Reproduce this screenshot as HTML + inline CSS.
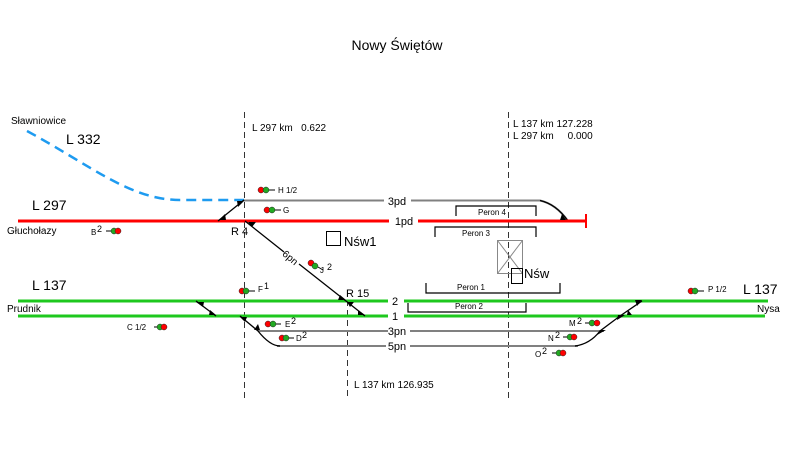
<!DOCTYPE html>
<html><head><meta charset="utf-8"><style>
html,body{margin:0;padding:0;background:#fff;}
svg{display:block;font-family:"Liberation Sans",sans-serif;}
</style></head><body>
<svg width="787" height="451" viewBox="0 0 787 451" xmlns="http://www.w3.org/2000/svg">
<rect width="787" height="451" fill="#fff"/>
<text x="397" y="50" font-size="14" text-anchor="middle">Nowy Świętów</text>

<!-- dashed km lines -->
<g stroke="#333" stroke-width="1" stroke-dasharray="6,4">
<line x1="244.5" y1="112" x2="244.5" y2="398"/>
<line x1="508.5" y1="112" x2="508.5" y2="398"/>
<line x1="347.5" y1="290" x2="347.5" y2="398"/>
</g>
<g font-size="10" fill="#000">
<text x="252" y="131">L 297 km&#160;&#160;&#160;0.622</text>
<text x="513" y="127">L 137 km 127.228</text>
<text x="513" y="139">L 297 km&#160;&#160;&#160;&#160;&#160;0.000</text>
<text x="354" y="388">L 137 km 126.935</text>
</g>

<!-- L332 blue dashed -->
<path d="M27,131 C90,165 130,200 180,200 L244,200" fill="none" stroke="#1e9bf0" stroke-width="2.5" stroke-dasharray="10,6"/>
<text x="11" y="124" font-size="10">Sławniowice</text>
<text x="66" y="144" font-size="14">L 332</text>

<!-- 3pd -->
<path d="M244,200.5 H384 M411,200.5 H540 Q556,204 568,221" fill="none" stroke="#808080" stroke-width="2"/>
<path d="M540,200.5 Q556,204 568,221" fill="none" stroke="#000" stroke-width="1.2"/>
<text x="397" y="205" font-size="11" text-anchor="middle">3pd</text>
<!-- 1pd red -->
<path d="M18,221 H389 M418,221 H586" stroke="#f00" stroke-width="3"/>
<line x1="586" y1="214" x2="586" y2="228" stroke="#f00" stroke-width="2"/>
<text x="404" y="225" font-size="11" text-anchor="middle">1pd</text>
<text x="32" y="210" font-size="14">L 297</text>
<text x="7" y="234" font-size="10">Głuchołazy</text>

<!-- green lines -->
<path d="M18,301 H388 M404,301 H768" stroke="#1ec81e" stroke-width="3"/>
<path d="M18,316 H388 M404,316 H765" stroke="#1ec81e" stroke-width="3"/>
<text x="395" y="305" font-size="11" text-anchor="middle">2</text>
<text x="395" y="320" font-size="11" text-anchor="middle">1</text>
<text x="32" y="290" font-size="14">L 137</text>
<text x="7" y="312" font-size="10">Prudnik</text>
<text x="743" y="294" font-size="14">L 137</text>
<text x="757" y="312" font-size="10">Nysa</text>

<!-- 3pn,5pn -->
<path d="M258,331 H388 M410,331 H604" stroke="#808080" stroke-width="2"/>
<path d="M277,346 H386 M410,346 H578" stroke="#808080" stroke-width="2"/>
<text x="397" y="335" font-size="11" text-anchor="middle">3pn</text>
<text x="397" y="350" font-size="11" text-anchor="middle">5pn</text>

<!-- connectors -->
<g fill="none" stroke="#000" stroke-width="1.3">
<line x1="244" y1="200" x2="218" y2="221"/>
<path d="M245,221 L284,252 M299,264 L365,316"/>
<line x1="196" y1="301" x2="216" y2="316"/>
<path d="M240,316 L258,331 Q270,346 280,346"/>
<path d="M642,301 L620,316 L600,331 Q590,344 575,346"/>
</g>
<text x="290" y="261" font-size="10" transform="rotate(40 290 258)" text-anchor="middle">6pn</text>
<!-- triangles -->
<g fill="#000">
<polygon points="237,201 244,201 238,207"/>
<polygon points="219,220 226,220 225,214"/>
<polygon points="248,222 256,222 252,227"/>
<polygon points="196,302 204,302 203,307"/>
<polygon points="209,315 216,315 210,310"/>
<polygon points="240,317 247,317 245,322"/>
<polygon points="254,330 260,330 258,324"/>
<polygon points="338,300 346,300 340,295"/>
<polygon points="347,302 354,302 350,307"/>
<polygon points="358,315 365,315 358,310"/>
<polygon points="635,300 642,300 637,306"/>
<polygon points="627,315 632,315 628,310"/>
<polygon points="618,315 625,315 617,320"/>
<polygon points="600,330 606,330 597,335"/>
<polygon points="560,220 566,220 562,214"/>
</g>
<text x="231" y="235" font-size="11">R 4</text>
<text x="346" y="297" font-size="11">R 15</text>

<!-- platforms -->
<g fill="none" stroke="#000" stroke-width="1.2">
<path d="M456,216 V206 H536 V216"/>
<path d="M435,237 V227 H536 V237"/>
<path d="M426,283 V293 H560 V283"/>
<path d="M408,303 V312 H526 V303"/>
</g>
<g font-size="8" text-anchor="middle">
<text x="492" y="215">Peron 4</text>
<text x="476" y="236">Peron 3</text>
<text x="471" y="290">Peron 1</text>
<text x="469" y="309">Peron 2</text>
</g>
<!-- buildings -->
<g fill="none" stroke="#888" stroke-width="1">
<rect x="497.5" y="240.5" width="25" height="33"/>
<line x1="497.5" y1="240.5" x2="522.5" y2="273.5"/>
<line x1="522.5" y1="240.5" x2="497.5" y2="273.5"/>
</g>
<rect x="511.5" y="268.5" width="11" height="15" fill="none" stroke="#000"/>
<text x="524" y="278" font-size="13">Nśw</text>
<rect x="326.5" y="231.5" width="14" height="14" fill="none" stroke="#000"/>
<text x="344" y="246" font-size="13">Nśw1</text>

<!-- signals: red/green dots -->
<g id="sig">
</g>
<g stroke="#000" stroke-width="1">
<line x1="268" y1="190" x2="275" y2="190"/>
<line x1="274" y1="210" x2="281" y2="210"/>
<line x1="106" y1="231" x2="114" y2="231"/>
<line x1="248" y1="291" x2="255" y2="291"/>
<line x1="318" y1="267" x2="323" y2="270"/>
<line x1="154" y1="327" x2="161" y2="327"/>
<line x1="274" y1="324" x2="281" y2="324"/>
<line x1="288" y1="338" x2="294" y2="338"/>
<line x1="697" y1="291" x2="704" y2="291"/>
<line x1="585" y1="323" x2="591" y2="323"/>
<line x1="563" y1="337" x2="569" y2="337"/>
<line x1="552" y1="353" x2="558" y2="353"/>
</g>
<g stroke="#222" stroke-width="0.5">
<circle cx="261" cy="190" r="3" fill="#f00"/><circle cx="266" cy="190" r="3" fill="#2a2"/>
<circle cx="267" cy="210" r="3" fill="#f00"/><circle cx="272" cy="210" r="3" fill="#2a2"/>
<circle cx="114" cy="231" r="3" fill="#2a2"/><circle cx="118" cy="231" r="3" fill="#f00"/>
<circle cx="242" cy="291" r="3" fill="#f00"/><circle cx="246" cy="291" r="3" fill="#2a2"/>
<circle cx="311" cy="263" r="3" fill="#f00"/><circle cx="315" cy="266" r="3" fill="#2a2"/>
<circle cx="160" cy="327" r="3" fill="#2a2"/><circle cx="164" cy="327" r="3" fill="#f00"/>
<circle cx="268" cy="324" r="3" fill="#f00"/><circle cx="273" cy="324" r="3" fill="#2a2"/>
<circle cx="282" cy="338" r="3" fill="#f00"/><circle cx="286" cy="338" r="3" fill="#2a2"/>
<circle cx="691" cy="291" r="3" fill="#f00"/><circle cx="695" cy="291" r="3" fill="#2a2"/>
<circle cx="592" cy="323" r="3" fill="#2a2"/><circle cx="597" cy="323" r="3" fill="#f00"/>
<circle cx="570" cy="337" r="3" fill="#2a2"/><circle cx="574" cy="337" r="3" fill="#f00"/>
<circle cx="559" cy="353" r="3" fill="#2a2"/><circle cx="563" cy="353" r="3" fill="#f00"/>
</g>
<g font-size="8">
<text x="278" y="193">H 1/2</text>
<text x="283" y="213">G</text>
<text x="91" y="235">B</text><text x="97" y="232" font-size="9">2</text>
<text x="258" y="292">F</text><text x="264" y="289" font-size="9">1</text>
<text x="320" y="273">J</text><text x="327" y="270" font-size="9">2</text>
<text x="127" y="330">C 1/2</text>
<text x="285" y="327">E</text><text x="291" y="324" font-size="9">2</text>
<text x="296" y="341">D</text><text x="302" y="338" font-size="9">2</text>
<text x="708" y="292">P 1/2</text>
<text x="569" y="326">M</text><text x="577" y="324" font-size="9">2</text>
<text x="548" y="341">N</text><text x="555" y="338" font-size="9">2</text>
<text x="535" y="357">O</text><text x="542" y="354" font-size="9">2</text>
</g>
</svg>
</body></html>
